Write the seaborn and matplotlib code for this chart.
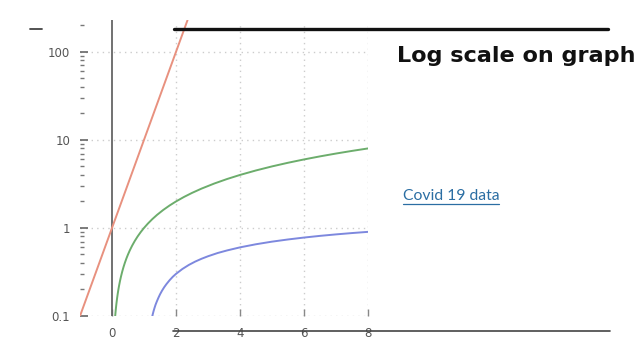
import numpy as np
import pandas as pd
import matplotlib
matplotlib.use("Agg")
import matplotlib.pyplot as plt
from matplotlib.lines import Line2D
from matplotlib.ticker import LogLocator, FixedLocator, NullFormatter
import seaborn as sns

# ---- data ----
red_x = [-1.0, -0.5, 0.0, 0.5, 1.0, 1.5, 2.0, 2.36]
red_y = [0.1, 0.316, 1.0, 3.16, 10.0, 31.6, 100.0, 229.0]

green_x = [0.1, 0.11, 0.12, 0.13, 0.14, 0.16, 0.18, 0.2, 0.22, 0.25, 0.28, 0.32, 0.36, 0.4,
           0.45, 0.5, 0.56, 0.63, 0.71, 0.8, 0.9, 1.0, 1.12, 1.26, 1.41, 1.6, 1.8, 2.0,
           2.25, 2.5, 2.8, 3.2, 3.6, 4.0, 4.5, 5.0, 5.5, 6.0, 6.5, 7.0, 7.5, 8.0]
green_y = [0.1, 0.11, 0.12, 0.13, 0.14, 0.16, 0.18, 0.2, 0.22, 0.25, 0.28, 0.32, 0.36, 0.4,
           0.45, 0.5, 0.56, 0.63, 0.71, 0.8, 0.9, 1.0, 1.12, 1.26, 1.41, 1.6, 1.8, 2.0,
           2.25, 2.5, 2.8, 3.2, 3.6, 4.0, 4.5, 5.0, 5.5, 6.0, 6.5, 7.0, 7.5, 8.0]

blue_x = [1.26, 1.28, 1.30, 1.33, 1.36, 1.40, 1.45, 1.50, 1.56, 1.63, 1.70, 1.80, 1.90, 2.0,
          2.2, 2.4, 2.6, 2.8, 3.0, 3.3, 3.6, 4.0, 4.5, 5.0, 5.5, 6.0, 6.5, 7.0, 7.5, 8.0]
blue_y = [0.100, 0.107, 0.114, 0.124, 0.134, 0.146, 0.161, 0.176, 0.193, 0.212, 0.230, 0.255,
          0.279, 0.301, 0.342, 0.380, 0.415, 0.447, 0.477, 0.519, 0.556, 0.602, 0.653, 0.699,
          0.740, 0.778, 0.813, 0.845, 0.875, 0.903]

x_ticks = [0, 2, 4, 6, 8]
y_ticks = [0.1, 1, 10, 100]
y_tick_labels = ["0.1", "1", "10", "100"]

title_text = "Log scale on graph"
link_text = "Covid 19 data"

sns.set_style("white")
plt.rcParams['font.family'] = ['DejaVu Sans']

W, H = 640, 360
fig = plt.figure(figsize=(6.4, 3.6), dpi=100)
fig.patch.set_facecolor("white")

def fx(px):
    return px / W

def fy(py):
    return 1 - py / H

ax = fig.add_axes([fx(80), fy(316), fx(368) - fx(80), fy(20) - fy(316)])
ax.set_yscale("log")
ax.set_xlim(-1, 8)
ax.set_ylim(0.1, 230)

sns.lineplot(x=red_x, y=red_y, ax=ax, color="#e8917f", linewidth=1.4)
sns.lineplot(x=green_x, y=green_y, ax=ax, color="#6cad6c", linewidth=1.4)
sns.lineplot(x=blue_x, y=blue_y, ax=ax, color="#7d88de", linewidth=1.4)

# grid (dotted)
for yv in y_ticks:
    ax.axhline(yv, color="#cccccc", linestyle=(0, (1, 3)), linewidth=1.0, zorder=0)
for xv in x_ticks[1:]:
    ax.axvline(xv, ymax=0.99, color="#cccccc", linestyle=(0, (1, 3)), linewidth=1.0, zorder=0)
ax.axvline(0, color="#666666", linewidth=1.3, zorder=1)

for s in ax.spines.values():
    s.set_visible(False)

ax.yaxis.set_major_locator(FixedLocator(y_ticks))
ax.set_yticklabels(y_tick_labels)
ax.yaxis.set_minor_locator(LogLocator(base=10, subs=np.arange(2, 10)))
ax.yaxis.set_minor_formatter(NullFormatter())
ax.tick_params(axis="y", which="major", direction="in", length=6, width=1.2,
               color="#666666", labelsize=8.5, labelcolor="#555555", pad=7, left=True)
ax.tick_params(axis="y", which="minor", direction="in", length=3, width=1.0,
               color="#777777", left=True)

ax.set_xticks(x_ticks)
ax.set_xticklabels([str(v) for v in x_ticks])
ax.tick_params(axis="x", which="major", direction="in", length=5, width=1.0,
               color="#888888", labelsize=8.5, labelcolor="#555555", pad=8, bottom=True)
ax.set_xlabel("")
ax.set_ylabel("")
ax.set_facecolor("none")

# slide decorations
fig.add_artist(Line2D([fx(174), fx(608)], [fy(28.5), fy(28.5)], color="#111111", linewidth=2.4))
fig.add_artist(Line2D([fx(30), fx(42)], [fy(28.5), fy(28.5)], color="#444444", linewidth=1.3))
fig.add_artist(Line2D([fx(173), fx(610)], [fy(331), fy(331)], color="#444444", linewidth=1.2))

fig.text(fx(397), fy(56), title_text, fontsize=16.1, fontweight="bold", family="DejaVu Sans",
         color="#111111", ha="left", va="center")
fig.text(fx(403), fy(196), link_text, fontsize=11.3, family="Lato",
         color="#2b6ea3", ha="left", va="center")
fig.add_artist(Line2D([fx(403), fx(499)], [fy(204), fy(204)], color="#2b6ea3", linewidth=0.9))

fig.savefig("out.png", dpi=100, facecolor="white")
